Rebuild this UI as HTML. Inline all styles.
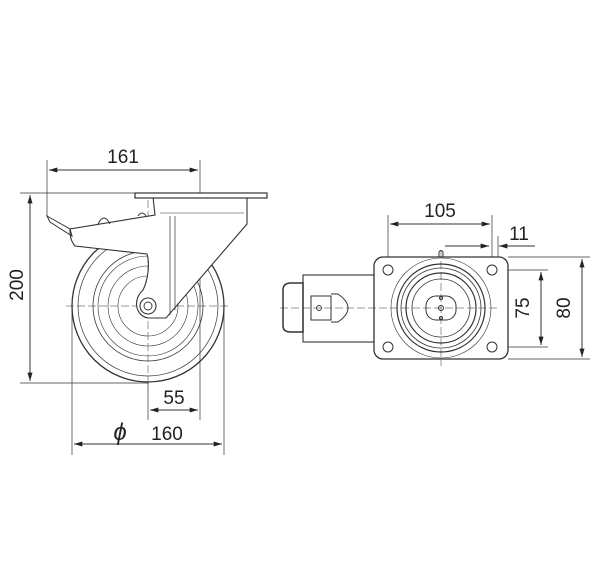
<!DOCTYPE html>
<html><head><style>body{margin:0;background:#fff}svg{display:block}text{font-family:"Liberation Sans",sans-serif;fill:#222}</style></head><body>
<svg width="600" height="576" viewBox="0 0 600 576" xmlns="http://www.w3.org/2000/svg">
<defs><marker id="a" viewBox="0 0 10 6" refX="10" refY="3" markerWidth="14" markerHeight="5" orient="auto-start-reverse" markerUnits="userSpaceOnUse"><path d="M0,0L10,3L0,6z" fill="#222"/></marker></defs>
<g stroke="#333" fill="none" stroke-width="1">
<!-- left view extension -->
<line x1="47" y1="160" x2="47" y2="216" stroke-width="0.7"/>
<line x1="200" y1="160" x2="200" y2="420" stroke-width="0.7"/>
<line x1="49" y1="170" x2="198" y2="170" marker-start="url(#a)" marker-end="url(#a)"/>
<line x1="20" y1="193" x2="135" y2="193" stroke-width="0.7"/>
<line x1="20" y1="383" x2="148" y2="383" stroke-width="0.7"/>
<line x1="30" y1="195" x2="30" y2="381" marker-start="url(#a)" marker-end="url(#a)"/>
<line x1="148" y1="383" x2="148" y2="420" stroke-width="0.7"/>
<line x1="150" y1="410" x2="198" y2="410" marker-start="url(#a)" marker-end="url(#a)"/>
<line x1="72" y1="310" x2="72" y2="455" stroke-width="0.7"/>
<line x1="224" y1="310" x2="224" y2="455" stroke-width="0.7"/>
<line x1="74" y1="444" x2="222" y2="444" marker-start="url(#a)" marker-end="url(#a)"/>
<!-- wheel -->
<circle cx="148" cy="306" r="76" stroke-width="1.3"/>
<circle cx="148" cy="306" r="70" stroke-width="0.7"/>
<circle cx="148" cy="306" r="55" stroke-width="0.8"/>
<circle cx="148" cy="306" r="50" stroke-width="0.6"/>
<circle cx="148" cy="306" r="40" stroke-width="0.6"/>
<circle cx="148" cy="306" r="30" stroke-width="0.6"/>
<line x1="66" y1="306" x2="230" y2="306" stroke-width="0.5" stroke-dasharray="8 3"/>
<line x1="148" y1="200" x2="148" y2="388" stroke-width="0.5" stroke-dasharray="8 3"/>
<!-- fork -->
<path d="M153,197 L247,197 L247,224 L166,318 L148,318 C136,316 132,300 143,290 C148,280 150,264 147,254 L75,246 C70,240 70,234 70,229 L155,215 Z" fill="#fff" stroke-width="1.1"/>
<line x1="170" y1="216" x2="170" y2="315" stroke-width="0.7"/>
<line x1="175" y1="216" x2="175" y2="310" stroke-width="0.7"/>
<line x1="160" y1="213" x2="244" y2="213" stroke-width="0.5"/>
<path d="M47,216 L70,229 L72,236 L50,222 Z" stroke-width="1"/>
<path d="M98,224 q6,-12 12,0" stroke-width="1"/>
<path d="M138,216 q4,-6 8,0"/>
<rect x="135" y="193" width="132" height="5" fill="#fff" stroke-width="1.2"/>
<circle cx="148" cy="306" r="8" fill="#fff" stroke-width="1.1"/>
<circle cx="148" cy="306" r="4" stroke-width="0.9"/>
<!-- right view dims -->
<line x1="388" y1="215" x2="388" y2="268" stroke-width="0.7"/>
<line x1="492" y1="215" x2="492" y2="268" stroke-width="0.7"/>
<line x1="390" y1="224" x2="490" y2="224" marker-start="url(#a)" marker-end="url(#a)"/>
<line x1="498" y1="236" x2="498" y2="268" stroke-width="0.7"/>
<line x1="445" y1="246" x2="489" y2="246" marker-end="url(#a)"/>
<line x1="535" y1="246" x2="499" y2="246" marker-end="url(#a)"/>
<line x1="500" y1="270" x2="548" y2="270" stroke-width="0.7"/>
<line x1="348" y1="347" x2="548" y2="347" stroke-width="0" />
<line x1="496" y1="347" x2="548" y2="347" stroke-width="0.7"/>
<line x1="508" y1="257" x2="590" y2="257" stroke-width="0.7"/>
<line x1="508" y1="359" x2="590" y2="359" stroke-width="0.7"/>
<line x1="541" y1="272" x2="541" y2="345" marker-start="url(#a)" marker-end="url(#a)"/>
<line x1="582" y1="259" x2="582" y2="357" marker-start="url(#a)" marker-end="url(#a)"/>
<!-- lock body -->
<rect x="303" y="275" width="71" height="67" stroke-width="1.1"/>
<path d="M303,283 L291,283 Q283,283 283,290 L283,326 Q283,332 291,332 L303,332 Z" stroke-width="1.5"/>
<rect x="311" y="296" width="20" height="24" stroke-width="1"/>
<path d="M331,294 L338,294 Q358,308 338,322 L331,322" stroke-width="1"/>
<circle cx="319" cy="308" r="2.5" stroke-width="0.9"/>
<!-- plate -->
<rect x="374" y="257" width="134" height="102" rx="9" fill="#fff" stroke-width="1.3"/>
<circle cx="388" cy="270" r="5"/><circle cx="492" cy="270" r="5"/>
<circle cx="388" cy="347" r="5"/><circle cx="492" cy="347" r="5"/>
<circle cx="441" cy="308" r="50" stroke-width="0.6"/>
<circle cx="441" cy="308" r="44" stroke-width="1.2"/>
<circle cx="441" cy="308" r="40" stroke-width="0.8"/>
<circle cx="441" cy="308" r="35" stroke-width="1.2"/>
<circle cx="441" cy="308" r="29" stroke-width="0.8"/>
<rect x="426" y="296" width="30" height="24" rx="10" stroke-width="1"/>
<circle cx="441" cy="308" r="2.5"/><circle cx="441" cy="298" r="1.5"/><circle cx="441" cy="318" r="1.5"/>
<path d="M439,257 L439,252 Q441,249 443,252 L443,257"/>
<line x1="280" y1="308" x2="498" y2="308" stroke-width="0.5" stroke-dasharray="8 3"/>
<line x1="441" y1="250" x2="441" y2="366" stroke-width="0.5" stroke-dasharray="8 3"/>
</g>
<g font-size="19">
<text x="123" y="163" text-anchor="middle">161</text>
<text transform="translate(23,285) rotate(-90)" text-anchor="middle">200</text>
<text x="174" y="404" text-anchor="middle">55</text>
<text x="120" y="440" text-anchor="middle" font-style="italic" font-size="24">ϕ</text>
<text x="167" y="440" text-anchor="middle">160</text>
<text x="440" y="217" text-anchor="middle">105</text>
<text x="519" y="240" text-anchor="middle">11</text>
<text transform="translate(529,308) rotate(-90)" text-anchor="middle">75</text>
<text transform="translate(570,308) rotate(-90)" text-anchor="middle">80</text>
</g>
</svg>
</body></html>
